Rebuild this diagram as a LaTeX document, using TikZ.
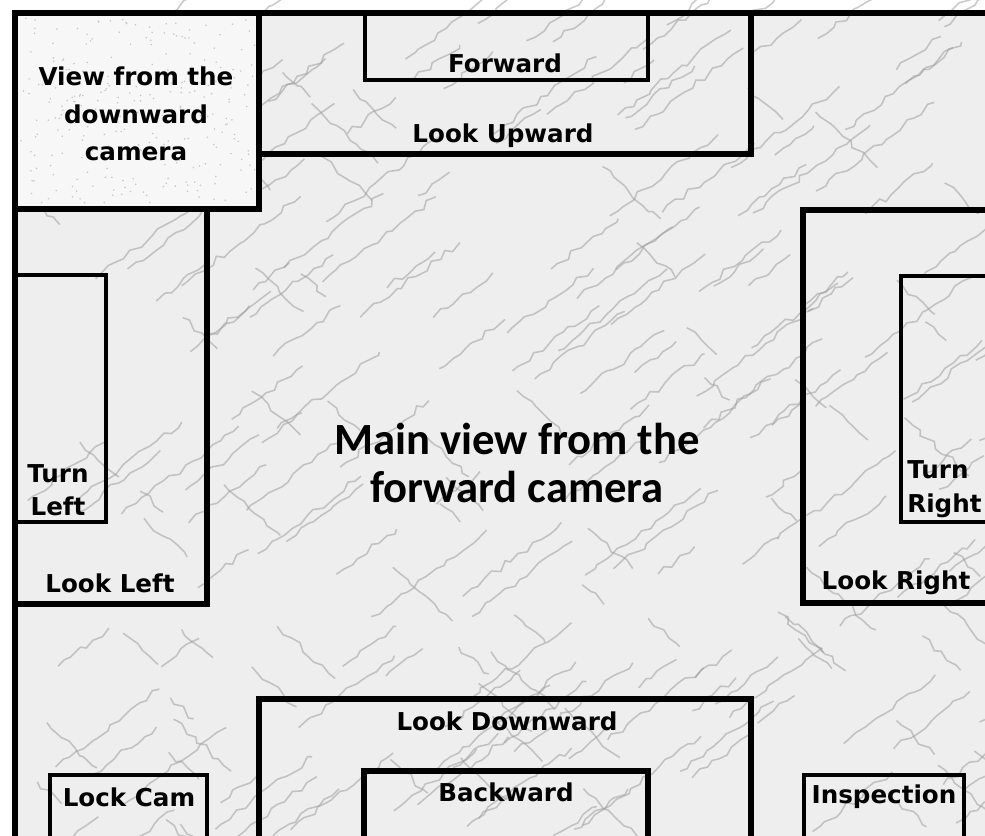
\documentclass[tikz,border=0pt]{standalone}
\usepackage{fontspec}
\setmainfont{DejaVu Sans}
\newfontfamily\mainviewfont{Carlito}
\usetikzlibrary{decorations.pathmorphing}

\tikzset{
  frameline/.style={line width=3.4pt},
  innerline/.style={line width=2.6pt},
  vein/.style={draw=gray!75, line width=0.9pt, opacity=0.55, decorate,
    decoration={random steps, segment length=5pt, amplitude=1.8pt}},
  speck/.style={fill=gray!45},
  boxlabel/.style={inner sep=0pt, font=\fontsize{14}{20}\selectfont\bfseries}
}

\begin{document}
\begin{tikzpicture}[x=0.02cm, y=-0.02cm, every node/.style={align=center}]
    \useasboundingbox (0,0) rectangle (985,836);
    \clip (0,0) rectangle (985,836);

    \fill[gray!13] (15,13) rectangle (985,836);
    \pgfmathsetseed{42}
    \foreach \i in {1,...,170}{
        \pgfmathsetmacro\vx{15+rnd*990}
        \pgfmathsetmacro\vy{13+rnd*840}
        \pgfmathsetmacro\vl{30+rnd*90}
        \draw[vein] (\vx,\vy) -- ++(\vl,-0.75*\vl);
    }
    \foreach \i in {1,...,70}{
        \pgfmathsetmacro\vx{15+rnd*990}
        \pgfmathsetmacro\vy{13+rnd*840}
        \pgfmathsetmacro\vl{20+rnd*50}
        \draw[vein] (\vx,\vy) -- ++(\vl,0.9*\vl);
    }
    \fill[gray!6] (15,13) rectangle (259,209);
    \foreach \i in {1,...,260}{
        \pgfmathsetmacro\sx{20+rnd*235}
        \pgfmathsetmacro\sy{18+rnd*187}
        \fill[speck] (\sx,\sy) circle (0.5pt);
    }

    \draw[frameline] (15,13) rectangle (1000,850);
    \draw[frameline] (15,13) rectangle (259,209);
    \draw[frameline] (259,13) rectangle (751,154);
    \draw[innerline] (365,13) rectangle (648,80);
    \draw[frameline] (15,209) rectangle (207,604);
    \draw[innerline] (15,275) rectangle (106,522);
    \draw[frameline] (803,210) rectangle (1000,603);
    \draw[innerline] (901,276) rectangle (1000,522);
    \draw[frameline] (259,699) rectangle (751,850);
    \draw[frameline] (364,771) rectangle (648,850);
    \draw[innerline] (50,775) rectangle (207,850);
    \draw[innerline] (804,775) rectangle (964,850);

    \node[boxlabel, font=\fontsize{14}{21.5}\selectfont\bfseries] (downcam) at (136,114) {View from the\\downward\\camera};
    \node[boxlabel] (forward) at (505,63) {Forward};
    \node[boxlabel] (lookup) at (503,136) {Look Upward};
    \node[boxlabel, font=\fontsize{14}{19}\selectfont\bfseries] (turnleft) at (58,490) {Turn\\Left};
    \node[boxlabel] (lookleft) at (110,583) {Look Left};
    \node[boxlabel, font=\fontsize{14}{19}\selectfont\bfseries, anchor=west, align=left] (turnright) at (907,489) {Turn\\Right};
    \node[boxlabel] (lookright) at (896,583) {Look Right};
    \node[inner sep=0pt, font=\mainviewfont\fontsize{25.4}{27}\selectfont\bfseries] (mainview) at (517,463) {Main view from the\\forward camera};
    \node[boxlabel] (lookdown) at (507,721) {Look Downward};
    \node[boxlabel] (backward) at (506,792) {Backward};
    \node[boxlabel] (lockcam) at (129,797) {Lock Cam};
    \node[boxlabel] (inspection) at (884,797) {Inspection};
\end{tikzpicture}
\end{document}
